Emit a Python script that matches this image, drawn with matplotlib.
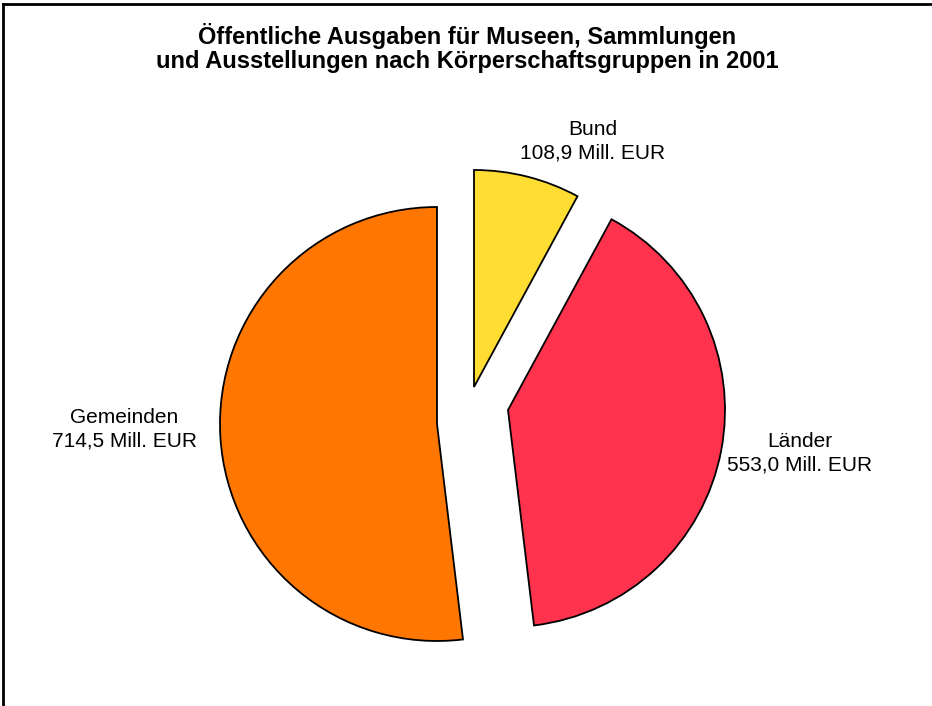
import matplotlib
matplotlib.use("Agg")
import matplotlib.pyplot as plt
from matplotlib.lines import Line2D

plt.rcParams['font.family'] = ['Liberation Sans', 'DejaVu Sans']

# data
groups = ["Bund", "Länder", "Gemeinden"]
values = [108.9, 553.0, 714.5]
value_labels = ["108,9 Mill. EUR", "553,0 Mill. EUR", "714,5 Mill. EUR"]
colors = ["#FFDD33", "#FF334D", "#FF7700"]

W, H = 932, 706
R = 217.0          # pie radius in pixels
cx, cy = 437, 424  # pie centre in pixels (from top left)

# how far each slice is pulled out (pixels, x right / y up)
shifts = [(37, 37), (71, 14), (0, 0)]
# label block centres in pixels
label_pos = [(593, 141), (800, 453), (124, 429)]

fig = plt.figure(figsize=(W / 100, H / 100), dpi=100)
ax = fig.add_axes([0, 0, 1, 1])

wedges, _ = ax.pie(values, startangle=90, counterclock=False, colors=colors,
                   wedgeprops=dict(edgecolor="black", linewidth=1.3))
for w, (sx, sy) in zip(wedges, shifts):
    w.set_center((sx / R, sy / R))

ax.set_aspect("auto")
ax.set_xlim(-cx / R, (W - cx) / R)
ax.set_ylim(-(H - cy) / R, cy / R)
ax.axis("off")

for g, lab, (px, py) in zip(groups, value_labels, label_pos):
    fig.text(px / W, 1 - py / H, g + "\n" + lab, ha="center", va="center",
             fontsize=15, linespacing=1.3)

fig.text(467 / W, 1 - 48 / H,
         "Öffentliche Ausgaben für Museen, Sammlungen\n"
         "und Ausstellungen nach Körperschaftsgruppen in 2001",
         ha="center", va="center", fontsize=17, fontweight="bold", linespacing=1.08)

# frame (only top and left edge visible)
fig.add_artist(Line2D([3 / W, 1], [1 - 4 / H, 1 - 4 / H], transform=fig.transFigure,
                      color="black", linewidth=2))
fig.add_artist(Line2D([3 / W, 3 / W], [0, 1 - 4 / H], transform=fig.transFigure,
                      color="black", linewidth=2))

fig.savefig("out.png", dpi=100)
